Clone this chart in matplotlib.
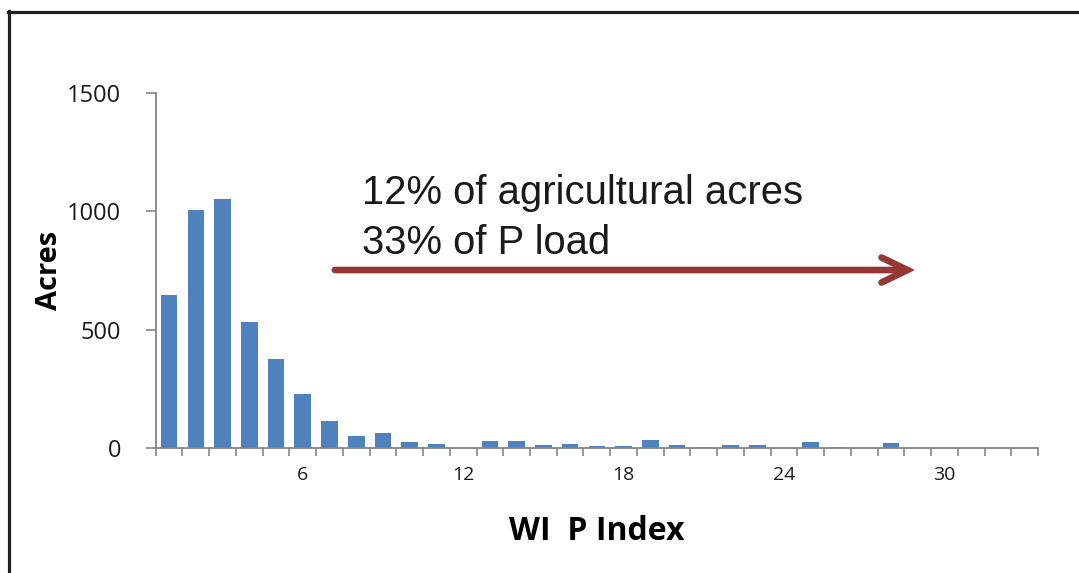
import numpy as np
import matplotlib.pyplot as plt
from matplotlib.lines import Line2D

# WI P Index classes and acres in each class
p_index = np.arange(1, 34)
acres = [647, 1007, 1054, 531, 376, 230, 116, 52, 62, 25, 16, 0,
         28, 28, 13, 18, 8, 8, 34, 13, 6, 13, 13, 0, 24, 6, 0, 19,
         0, 0, 0, 0, 0]
x_labels = [6, 12, 18, 24, 30]
y_ticks = [0, 500, 1000, 1500]

note_lines = ["12% of agricultural acres", "33% of P load"]
arrow_from = 7.2
arrow_to = 28.9
arrow_level = 752

fig = plt.figure(figsize=(10.79, 5.73), dpi=100)
ax = fig.add_axes([0.1443, 0.2182, 0.8177, 0.6195])

ax.bar(p_index, acres, width=0.62, color='#4f81bd', zorder=2)

ax.set_xlim(0.5, 33.5)
ax.set_ylim(0, 1500)

# tick marks between the classes, labels every 6th class
ax.set_xticks(np.arange(0.5, 34, 1), minor=True)
ax.set_xticks(x_labels)
ax.set_xticklabels([str(v) for v in x_labels], fontsize=14, family='Open Sans', color='#1a1a1a')
ax.tick_params(axis='x', which='major', length=0, pad=13)
ax.tick_params(axis='x', which='minor', length=6, width=1.2, color='#868686', direction='out')

ax.set_yticks(y_ticks)
ax.set_yticklabels([str(v) for v in y_ticks], fontsize=17, family='Open Sans', color='#1a1a1a')
ax.tick_params(axis='y', length=7, width=1.2, color='#868686', direction='out', pad=18)

for side in ['top', 'right']:
    ax.spines[side].set_visible(False)
for side in ['left', 'bottom']:
    ax.spines[side].set_color('#868686')
    ax.spines[side].set_linewidth(1.3)

ax.set_ylabel('Acres', fontsize=21, family='Open Sans', fontweight='bold', labelpad=2)
ax.set_xlabel('WI  P Index', fontsize=23, family='Open Sans', fontweight='bold', labelpad=22)

# annotation text and arrow
ax.text(8.2, 1030, note_lines[0], fontsize=28.8, family='Liberation Sans', color='#1a1a1a', va='baseline')
ax.text(8.2, 818, note_lines[1], fontsize=28.8, family='Liberation Sans', color='#1a1a1a', va='baseline')
ax.annotate('', xy=(arrow_to, arrow_level), xytext=(arrow_from, arrow_level),
            arrowprops=dict(arrowstyle='->,head_length=0.62,head_width=0.3', color='#953735',
                            lw=4.8, mutation_scale=30, shrinkA=0, shrinkB=0,
                            capstyle='round', joinstyle='miter'))

# frame lines on the left and top edge
fig.add_artist(Line2D([9 / 1079, 9 / 1079], [0, 1 - 11 / 573], color='#231f20', lw=2.3))
fig.add_artist(Line2D([8 / 1079, 1], [1 - 12 / 573, 1 - 12 / 573], color='#231f20', lw=2.3))

fig.savefig('out.png', dpi=100)
